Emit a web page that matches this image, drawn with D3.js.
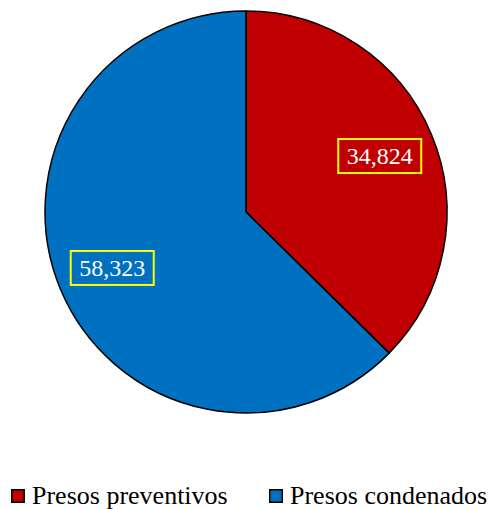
<!DOCTYPE html>
<html>
<head>
<meta charset="utf-8">
<script src="https://cdn.jsdelivr.net/npm/d3@7"></script>
<style>
  body { margin: 0; background: #fff; }
  svg { display: block; }
  svg text { font-family: "Liberation Serif", "Times New Roman", Times, "DejaVu Serif", serif; }
</style>
</head>
<body>
<div id="container"></div>
<script>
// data
const categories = ["Presos preventivos", "Presos condenados"]
const values = [34824, 58323]
const labels = ["34,824", "58,323"]
const colors = ["#C00000", "#0070C0"]

const width = 489
const height = 509
const cx = 246
const cy = 212
const radius = 201

const svg = d3.create("svg")
  .attr("width", width)
  .attr("height", height)
container.append(svg.node())

const pie = d3.pie().sort(null).value(d => d)
const arcs = pie(values)
const arc = d3.arc().innerRadius(0).outerRadius(radius)
const labelArc = d3.arc().innerRadius(145).outerRadius(145)

const g = svg.append("g").attr("transform", `translate(${cx},${cy})`)

g.selectAll(".slice")
  .data(arcs)
  .join("path")
  .attr("class", "slice")
  .attr("d", arc)
  .style("fill", (d, i) => colors[i])
  .style("stroke", "#000")
  .style("stroke-width", 1.5)

const lab = g.selectAll(".lab")
  .data(arcs)
  .join("g")
  .attr("class", "lab")
  .attr("transform", d => `translate(${labelArc.centroid(d)})`)

lab.append("rect")
  .attr("x", -41.5)
  .attr("y", -17)
  .attr("width", 83)
  .attr("height", 34)
  .style("fill", "none")
  .style("stroke", "#FFFF00")
  .style("stroke-width", 2)

lab.append("text")
  .attr("text-anchor", "middle")
  .attr("dy", "0.35em")
  .style("font-size", "24px")
  .style("fill", "#fff")
  .text((d, i) => labels[i])

// legend
const legendX = [11, 269]
const legend = svg.selectAll(".leg")
  .data(categories)
  .join("g")
  .attr("class", "leg")
  .attr("transform", (d, i) => `translate(${legendX[i]},489)`)

legend.append("rect")
  .attr("x", 0.75)
  .attr("y", 0.75)
  .attr("width", 12.5)
  .attr("height", 12.5)
  .style("fill", (d, i) => colors[i])
  .style("stroke", "#000")
  .style("stroke-width", 1.5)

legend.append("text")
  .attr("x", 21)
  .attr("y", 15)
  .style("font-size", "26px")
  .style("fill", "#000")
  .text(d => d)
</script>
</body>
</html>
